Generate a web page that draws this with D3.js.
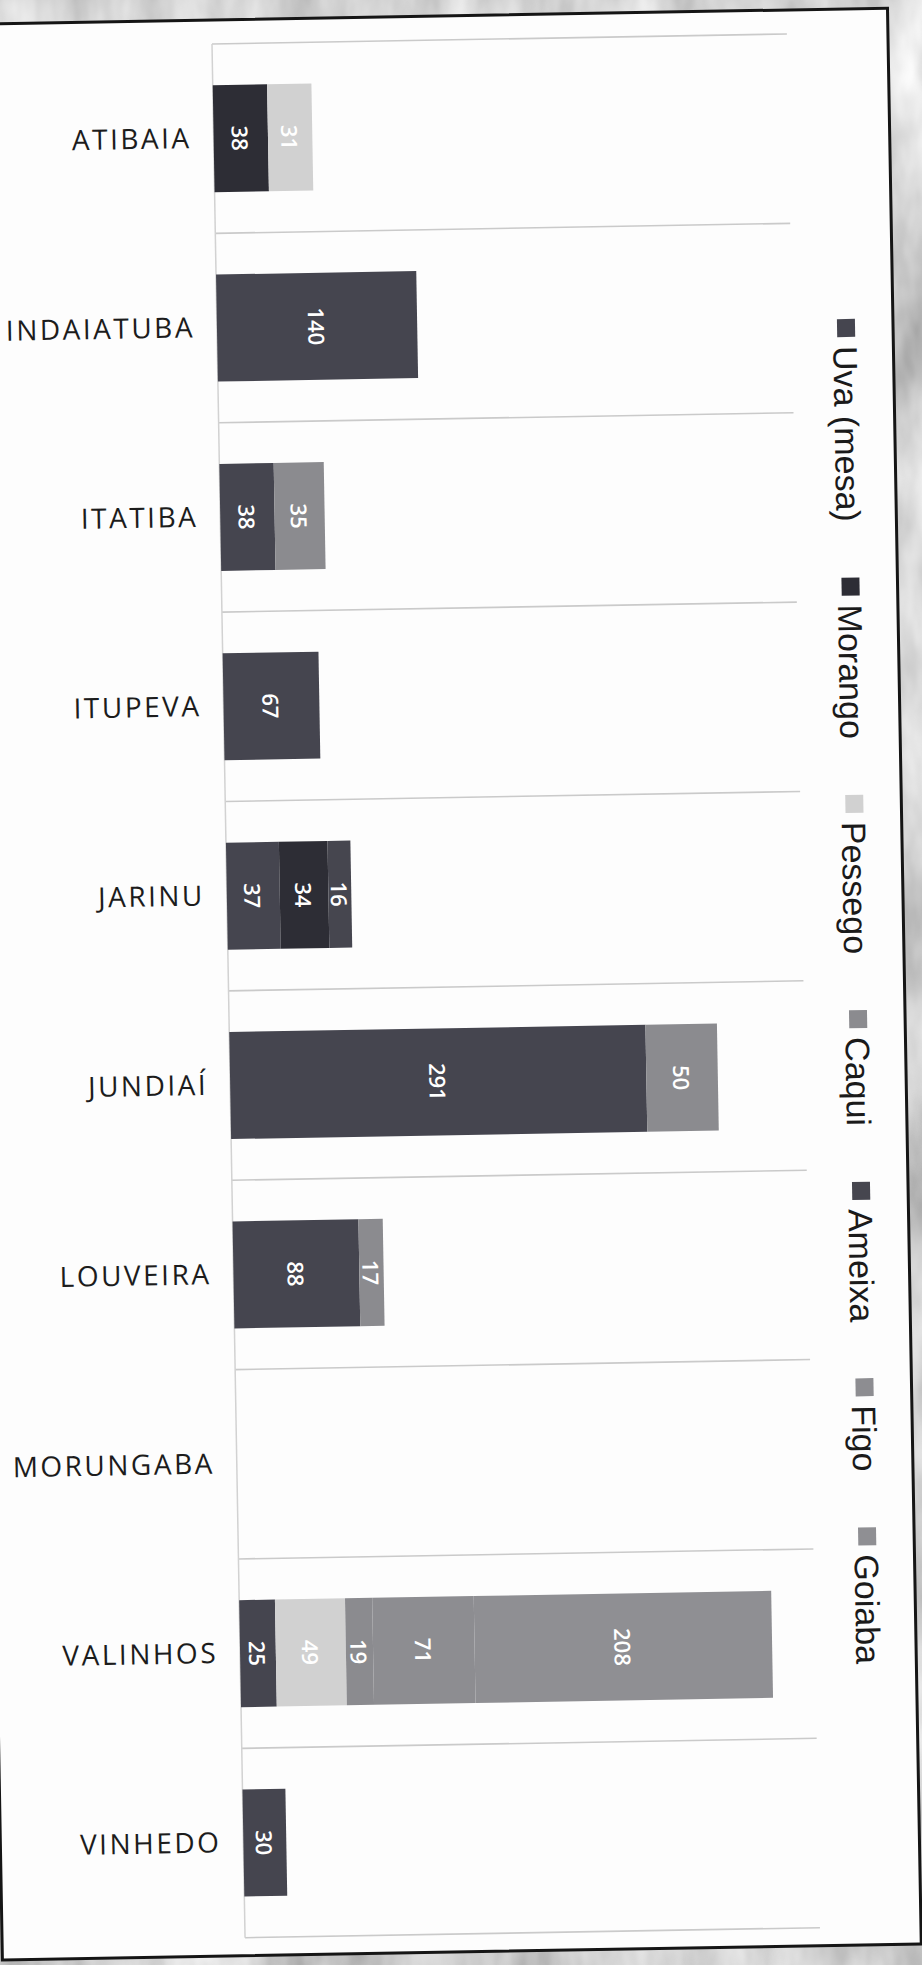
<!DOCTYPE html>
<html>
<head>
<meta charset="utf-8">
<script src="https://cdn.jsdelivr.net/npm/d3@7"></script>
<style>
  html, body { margin: 0; padding: 0; background: #a5a5a5; }
  svg { display: block; }
</style>
</head>
<body>
<script>
document.addEventListener('DOMContentLoaded', function() {
    const w = 922;
    const h = 1965;

    // Data
    const categories = ["ATIBAIA", "INDAIATUBA", "ITATIBA", "ITUPEVA", "JARINU", "JUNDIAÍ", "LOUVEIRA", "MORUNGABA", "VALINHOS", "VINHEDO"];
    const seriesNames = ["Uva (mesa)", "Morango", "Pessego", "Caqui", "Ameixa", "Figo", "Goiaba"];
    const uva     = [0, 140, 38, 67, 37, 291, 88, 0, 25, 30];
    const morango = [38, 0, 0, 0, 34, 0, 0, 0, 0, 0];
    const pessego = [31, 0, 0, 0, 0, 0, 0, 0, 49, 0];
    const caqui   = [0, 0, 35, 0, 0, 50, 17, 0, 19, 0];
    const ameixa  = [0, 0, 0, 0, 16, 0, 0, 0, 0, 0];
    const figo    = [0, 0, 0, 0, 0, 0, 0, 0, 71, 0];
    const goiaba  = [0, 0, 0, 0, 0, 0, 0, 0, 208, 0];

    const palette = ["#45454f", "#2d2d35", "#d1d1d1", "#8b8b8f", "#46464f", "#8d8d91", "#8f8f93"];

    const seriesValues = [uva, morango, pessego, caqui, ameixa, figo, goiaba];
    const table = categories.map((c, i) => {
        const row = { category: c };
        seriesNames.forEach((s, j) => row[s] = seriesValues[j][i]);
        return row;
    });

    const svg = d3.select("body")
        .append("svg")
        .attr("width", w)
        .attr("height", h);

    // Marble-like backdrop behind the sheet
    const defs = svg.append("defs");
    const filter = defs.append("filter")
        .attr("id", "marble")
        .attr("x", 0).attr("y", 0).attr("width", "100%").attr("height", "100%");
    filter.append("feTurbulence")
        .attr("type", "fractalNoise")
        .attr("baseFrequency", "0.018 0.007")
        .attr("numOctaves", 4)
        .attr("seed", 7);
    filter.append("feColorMatrix")
        .attr("type", "matrix")
        .attr("values", "0.75 0 0 0 0.28  0.75 0 0 0 0.28  0.75 0 0 0 0.28  0 0 0 0 1");

    svg.append("rect")
        .attr("width", w)
        .attr("height", h)
        .attr("filter", "url(#marble)");

    // The photographed sheet is turned about one degree
    const sheet = svg.append("g")
        .attr("transform", "rotate(-1, 212, 44)");

    sheet.append("rect")
        .attr("x", -31)
        .attr("y", 20)
        .attr("width", 919)
        .attr("height", 1936)
        .attr("fill", "#fdfdfd")
        .attr("stroke", "#151515")
        .attr("stroke-width", 3);

    // Scales
    const xScale = d3.scaleLinear()
        .domain([0, 402])
        .range([212, 787]);

    const yScale = d3.scaleBand()
        .domain(categories)
        .range([44, 1938])
        .paddingInner(0.435)
        .paddingOuter(0.2175);

    const step = yScale.step();
    const edge0 = yScale(categories[0]) - (step - yScale.bandwidth()) / 2;
    const edges = d3.range(categories.length + 1).map(i => edge0 + i * step);

    // Separator lines between categories
    sheet.append("g")
        .selectAll("line")
        .data(edges)
        .enter()
        .append("line")
        .attr("x1", xScale(0))
        .attr("x2", xScale.range()[1])
        .attr("y1", d => d)
        .attr("y2", d => d)
        .attr("stroke", "#cacaca")
        .attr("stroke-width", 1.6);

    // Category axis line
    sheet.append("line")
        .attr("x1", xScale(0))
        .attr("x2", xScale(0))
        .attr("y1", edges[0])
        .attr("y2", edges[edges.length - 1])
        .attr("stroke", "#d2d2d2")
        .attr("stroke-width", 1.5);

    // Category labels
    const yAxis = d3.axisLeft(yScale).tickSize(0).tickPadding(22);
    const yAxisG = sheet.append("g")
        .attr("transform", `translate(${xScale(0)}, 0)`)
        .call(yAxis);
    yAxisG.select(".domain").remove();
    yAxisG.selectAll("text")
        .attr("font-family", "'Open Sans', sans-serif")
        .attr("font-size", 28)
        .attr("fill", "#1c1c1c")
        .style("letter-spacing", "2.5px");

    // Stacked bars
    const stacked = d3.stack().keys(seriesNames)(table);

    const layers = sheet.append("g")
        .selectAll("g")
        .data(stacked)
        .enter()
        .append("g")
        .attr("fill", (d, i) => palette[i]);

    layers.selectAll("rect")
        .data(d => d.filter(p => p[1] - p[0] > 0))
        .enter()
        .append("rect")
        .attr("x", d => xScale(d[0]))
        .attr("y", d => yScale(d.data.category))
        .attr("width", d => xScale(d[1]) - xScale(d[0]))
        .attr("height", yScale.bandwidth());

    // Value labels, turned like the rest of the print
    layers.selectAll("text")
        .data(d => d.filter(p => p[1] - p[0] > 0))
        .enter()
        .append("text")
        .attr("x", d => (xScale(d[0]) + xScale(d[1])) / 2)
        .attr("y", d => yScale(d.data.category) + yScale.bandwidth() / 2)
        .attr("transform", d => `rotate(90, ${(xScale(d[0]) + xScale(d[1])) / 2}, ${yScale(d.data.category) + yScale.bandwidth() / 2})`)
        .attr("text-anchor", "middle")
        .attr("dominant-baseline", "central")
        .attr("font-family", "'Open Sans', sans-serif")
        .attr("font-weight", 600)
        .attr("font-size", 22)
        .attr("fill", "#ffffff")
        .text(d => d[1] - d[0]);

    // Legend, reading top to bottom
    const legend = sheet.append("g");
    const swatch = 18;
    const baseX = 828;
    let cursor = 330;
    seriesNames.forEach((name, i) => {
        legend.append("rect")
            .attr("x", baseX + 4)
            .attr("y", cursor)
            .attr("width", swatch)
            .attr("height", swatch)
            .attr("fill", palette[i]);
        const ty = cursor + swatch + 9;
        const t = legend.append("text")
            .attr("x", baseX)
            .attr("y", ty)
            .attr("transform", `rotate(90, ${baseX}, ${ty})`)
            .attr("font-family", "'Liberation Sans', Arial, sans-serif")
            .attr("font-size", 34)
            .attr("fill", "#1a1a1a")
            .text(name);
        cursor = ty + t.node().getComputedTextLength() + 56;
    });
});
</script>
</body>
</html>
